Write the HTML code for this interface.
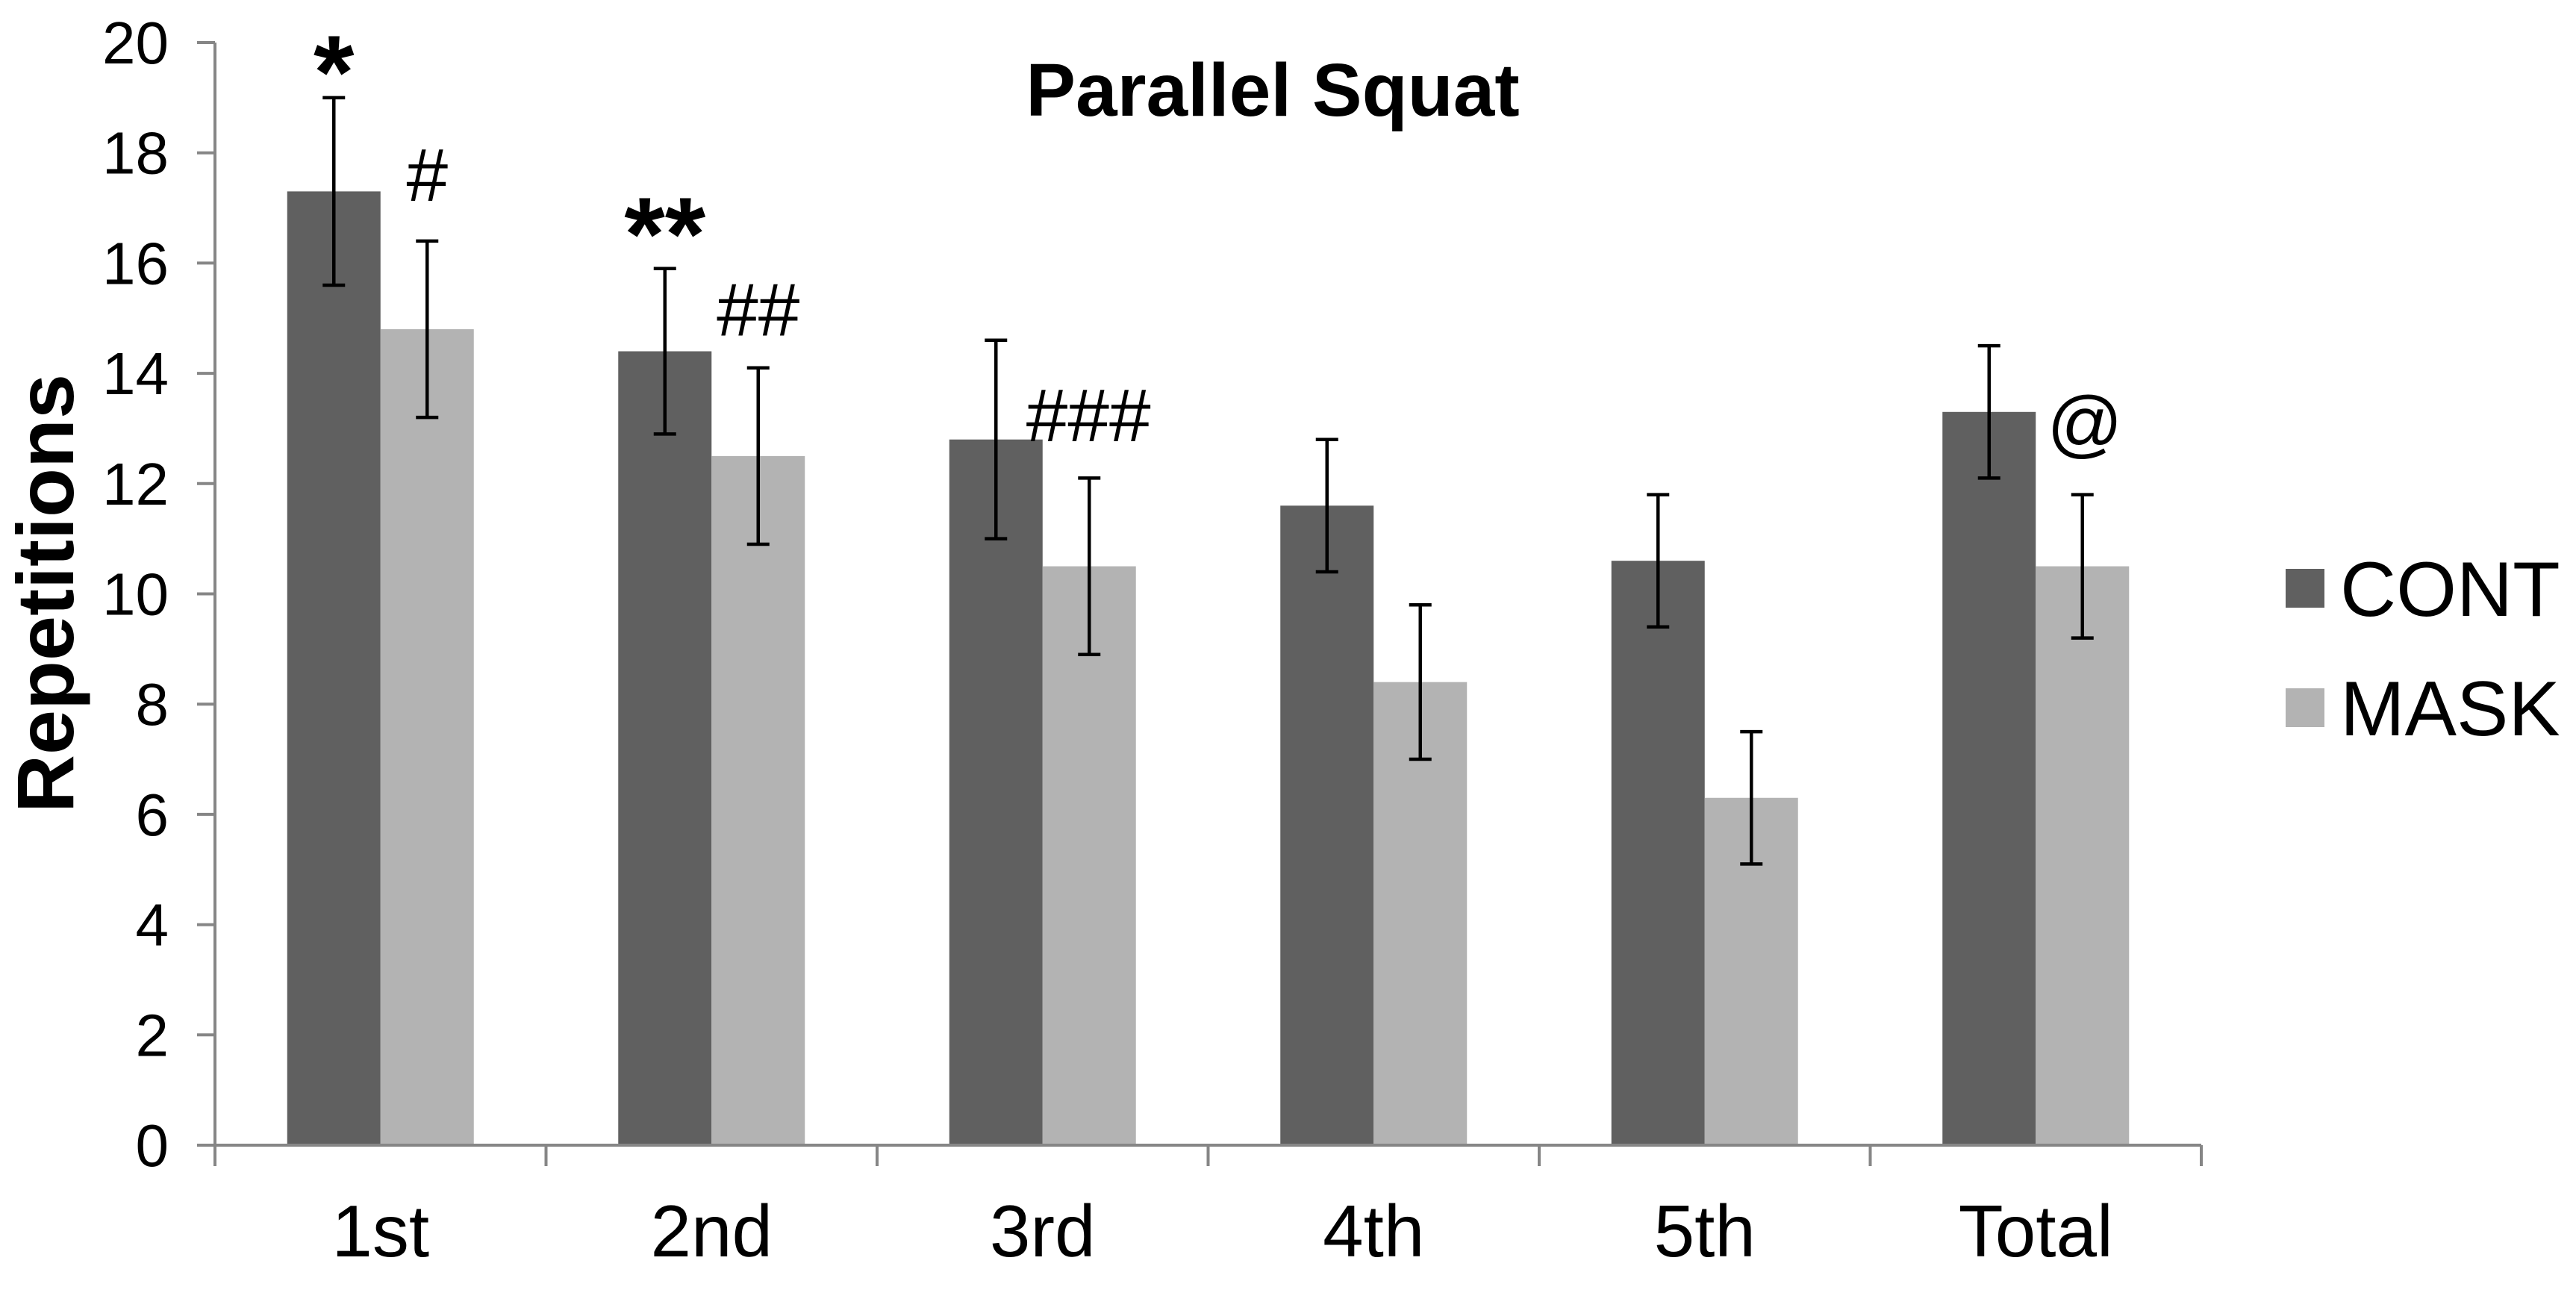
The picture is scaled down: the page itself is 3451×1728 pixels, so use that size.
<!DOCTYPE html>
<html><head><meta charset="utf-8"><style>
html,body{margin:0;padding:0;background:#fff;}
svg{display:block;font-family:"Liberation Sans",Arial,sans-serif;}
</style></head><body>
<svg id="chart" width="3451" height="1728" viewBox="0 0 3451 1728" xmlns="http://www.w3.org/2000/svg">
<rect width="3451" height="1728" fill="#fff"/>
<text x="1705" y="155" font-size="100" font-weight="bold" text-anchor="middle">Parallel Squat</text>
<text transform="translate(98,795) rotate(-90)" font-size="108" font-weight="bold" text-anchor="middle">Repetitions</text>
<g id="plot"></g>
<g>
<rect x="3062" y="762" width="52" height="52" fill="#606060"/>
<text x="3135" y="825" font-size="104">CONT</text>
<rect x="3062" y="922" width="52" height="52" fill="#b3b3b3"/>
<text x="3135" y="985" font-size="104">MASK</text>
</g>
</svg>
<script>
const categories = ["1st","2nd","3rd","4th","5th","Total"];
const contValues = [17.3,14.4,12.8,11.6,10.6,13.3];
const contErrors = [1.7,1.5,1.8,1.2,1.2,1.2];
const maskValues = [14.8,12.5,10.5,8.4,6.3,10.5];
const maskErrors = [1.6,1.6,1.6,1.4,1.2,1.3];
const yTicks = [0,2,4,6,8,10,12,14,16,18,20];
const annotations = [
  {text:"*", series:0, cat:0, value:19.0, bold:true},
  {text:"#", series:1, cat:0, value:16.4, bold:false},
  {text:"**", series:0, cat:1, value:15.9, bold:true},
  {text:"##", series:1, cat:1, value:14.1, bold:false},
  {text:"###", series:1, cat:2, value:12.7, bold:false},
  {text:"@", series:1, cat:5, value:12.7, bold:false}
];

const NS="http://www.w3.org/2000/svg";
const g=document.getElementById('plot');
const X0=288, X1=2949, Y0=1534, Y20=57;
const yMax=20;
function y(v){return Y0-(v/yMax)*(Y0-Y20);}
const catW=(X1-X0)/categories.length;
function catCenter(i){return X0+catW*(i+0.5);}
const barW=125;
function barX(i,s){return catCenter(i)-barW+s*barW;}
function mk(tag,attrs){const e=document.createElementNS(NS,tag);for(const k in attrs)e.setAttribute(k,attrs[k]);g.appendChild(e);return e;}

const series=[{vals:contValues,errs:contErrors,color:"#606060",name:"cont"},{vals:maskValues,errs:maskErrors,color:"#b3b3b3",name:"mask"}];
series.forEach((s,si)=>{
  s.vals.forEach((v,i)=>{
    const r=mk('rect',{x:barX(i,si),y:y(v),width:barW,height:Y0-y(v),fill:s.color});
    
    
  });
});
const ya=mk('line',{x1:X0,y1:Y20,x2:X0,y2:Y0,stroke:"#868686","stroke-width":4});


const xa=mk('line',{x1:X0,y1:Y0,x2:X1,y2:Y0,stroke:"#868686","stroke-width":4});


yTicks.forEach(t=>{
  const l=mk('line',{x1:X0-24,y1:y(t),x2:X0,y2:y(t),stroke:"#868686","stroke-width":4});
  
  
  const tx=mk('text',{x:X0-62,y:y(t)+28,"font-size":80,"text-anchor":"end"});
  tx.textContent=t;
  
  
});
for(let i=0;i<=categories.length;i++){
  const xx=X0+catW*i;
  const l=mk('line',{x1:xx,y1:Y0,x2:xx,y2:Y0+28,stroke:"#868686","stroke-width":4});
  
  
}
categories.forEach((c,i)=>{
  const tx=mk('text',{x:catCenter(i),y:1683,"font-size":98,"text-anchor":"middle"});
  tx.textContent=c;
  
  
});
series.forEach((s,si)=>{
  s.vals.forEach((v,i)=>{
    const cx=barX(i,si)+barW/2, e=s.errs[i];
    const p=mk('path',{d:`M${cx},${y(v+e)}V${y(v-e)}M${cx-15},${y(v+e)}H${cx+15}M${cx-15},${y(v-e)}H${cx+15}`,stroke:"#000","stroke-width":4.5,fill:"none"});
    
    
  });
});
annotations.forEach(a=>{
  const cx=barX(a.cat,a.series)+barW/2;
  let xx=cx, anchor="middle", fs=a.bold?140:100, yy;
  if(a.text==="*") yy=y(a.value)+14;
  else if(a.text==="**") yy=y(a.value)+2;
  else if(a.text==="#") yy=y(a.value)-54;
  else if(a.text==="##") yy=y(a.value)-43;
  else if(a.text==="###"){xx=barX(a.cat,0)+barW-22;anchor="start";yy=y(a.value)-5;}
  else {xx=barX(a.cat,1)+15;anchor="start";yy=y(a.value)+5;}
  const t=mk('text',{x:xx,y:yy,"font-size":fs,"text-anchor":anchor,"font-weight":a.bold?"bold":"normal"});
  t.textContent=a.text;
  
  
});
</script>
</body></html>
